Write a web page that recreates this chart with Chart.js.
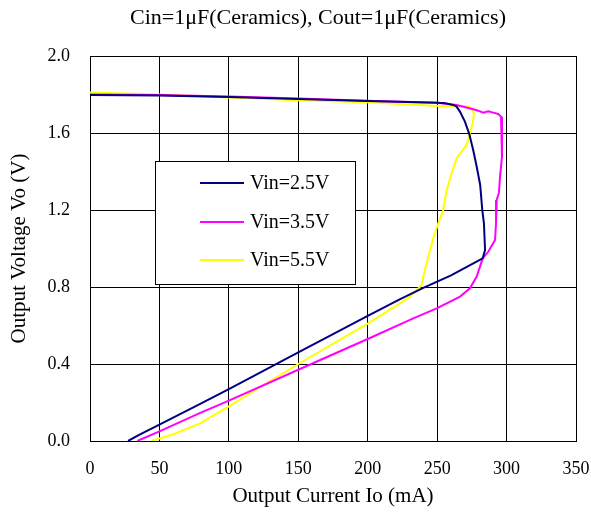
<!DOCTYPE html>
<html>
<head>
<meta charset="utf-8">
<script src="https://cdn.jsdelivr.net/npm/chart.js@4/dist/chart.umd.min.js"></script>
<style>
  html, body { margin: 0; padding: 0; background: #fff; }
  canvas { display: block; }
</style>
</head>
<body>
<canvas id="chart" width="591" height="514"></canvas>
<script>
// Io (mA) / Vo (V)
const vin25Current = [0, 50, 100, 150, 200, 250, 256, 262, 264, 266.5, 270, 273.2, 276, 278.5, 281, 282.5, 283.7, 284.5, 282.8, 260, 240, 223, 200, 150, 100, 79, 50, 35, 27.4];
const vin25Voltage = [1.797, 1.795, 1.787, 1.777, 1.766, 1.757, 1.754, 1.745, 1.737, 1.71, 1.659, 1.593, 1.51, 1.425, 1.33, 1.2, 1.131, 0.992, 0.949, 0.86, 0.795, 0.736, 0.65, 0.46, 0.27, 0.192, 0.085, 0.03, 0];

const vin35Current = [0, 50, 100, 150, 200, 250, 264, 276, 279.6, 283.2, 286.8, 290.4, 294, 296, 296.7, 296.7, 295.3, 294.5, 292.9, 292.4, 291.7, 286.8, 282.8, 278.5, 273.6, 266.5, 249.7, 232.8, 200, 150, 100, 79, 50, 34];
const vin35Voltage = [1.80, 1.797, 1.79, 1.779, 1.768, 1.757, 1.745, 1.723, 1.716, 1.706, 1.713, 1.706, 1.699, 1.685, 1.65, 1.477, 1.373, 1.29, 1.252, 1.131, 1.044, 0.983, 0.949, 0.854, 0.793, 0.75, 0.689, 0.637, 0.53, 0.37, 0.21, 0.145, 0.05, 0];

const vin55Current = [0, 50, 100, 150, 200, 237.6, 250, 264, 271.3, 274.9, 276.5, 275.6, 273.6, 271.3, 267.6, 264, 260.4, 256.9, 255.6, 254.4, 250.8, 247.2, 243.6, 240, 238.9, 235.3, 230.4, 223.2, 200, 150, 100, 79, 60, 44];
const vin55Voltage = [1.81, 1.80, 1.785, 1.77, 1.76, 1.745, 1.74, 1.74, 1.74, 1.728, 1.70, 1.65, 1.598, 1.538, 1.503, 1.468, 1.39, 1.304, 1.252, 1.2, 1.131, 1.053, 0.957, 0.854, 0.81, 0.784, 0.75, 0.715, 0.61, 0.40, 0.18, 0.09, 0.035, 0];

const seriesLabels = ['Vin=2.5V', 'Vin=3.5V', 'Vin=5.5V'];
const seriesColors = ['#000080', '#ff00ff', '#ffff00'];
const xTicks = [0, 50, 100, 150, 200, 250, 300, 350];
const yTicks = [0.0, 0.4, 0.8, 1.2, 1.6, 2.0];

const chartTitle = 'Cin=1\u03bcF(Ceramics), Cout=1\u03bcF(Ceramics)';
const xTitle = 'Output Current Io (mA)';
const yTitle = 'Output Voltage Vo (V)';

const FONT = "'Liberation Serif', 'Times New Roman', serif";

const toPoints = (xs, ys) => xs.map((x, i) => ({ x, y: ys[i] }));

// title above the plot and the boxed legend inside it
const overlay = {
  id: 'overlay',
  afterDraw(chart) {
    const ctx = chart.ctx;
    ctx.save();
    ctx.fillStyle = '#000';
    ctx.font = `22px ${FONT}`;
    ctx.textAlign = 'center';
    ctx.textBaseline = 'middle';
    ctx.fillText(chartTitle, 318, 18);

    // legend box
    ctx.fillStyle = '#fff';
    ctx.fillRect(155, 161, 200, 123);
    ctx.strokeStyle = '#000';
    ctx.lineWidth = 1;
    ctx.strokeRect(155.5, 161.5, 200, 123);
    const rows = [183, 222, 260];
    ctx.font = `20px ${FONT}`;
    ctx.textAlign = 'left';
    chart.data.datasets.forEach((ds, i) => {
      ctx.strokeStyle = ds.borderColor;
      ctx.lineWidth = 2;
      ctx.beginPath();
      ctx.moveTo(200, rows[i]);
      ctx.lineTo(244, rows[i]);
      ctx.stroke();
      ctx.fillStyle = '#000';
      ctx.fillText(ds.label, 250, rows[i] + 1);
    });
    ctx.restore();
  }
};

new Chart(document.getElementById('chart'), {
  type: 'scatter',
  data: {
    datasets: [
      { label: seriesLabels[0], data: toPoints(vin25Current, vin25Voltage), borderColor: seriesColors[0] },
      { label: seriesLabels[1], data: toPoints(vin35Current, vin35Voltage), borderColor: seriesColors[1] },
      { label: seriesLabels[2], data: toPoints(vin55Current, vin55Voltage), borderColor: seriesColors[2] }
    ].map(ds => ({ ...ds, showLine: true, pointRadius: 0, borderWidth: 2, tension: 0, fill: false }))
  },
  options: {
    responsive: false,
    animation: false,
    layout: { padding: { left: 0, right: 15, top: 56, bottom: 0 } },
    plugins: { legend: { display: false }, tooltip: { enabled: false }, title: { display: false } },
    scales: {
      x: {
        type: 'linear', min: 0, max: 350,
        afterBuildTicks: axis => { axis.ticks = xTicks.map(v => ({ value: v })); },
        afterFit: axis => { axis.height = 73; axis.paddingLeft = 0; axis.paddingRight = 0; },
        grid: { color: '#000', lineWidth: 1, drawTicks: false },
        border: { color: '#000', width: 1 },
        ticks: { color: '#000', padding: 17, maxRotation: 0, font: { family: FONT, size: 18 } },
        title: { display: true, text: xTitle, color: '#000', font: { family: FONT, size: 21 }, padding: { top: 0, bottom: 5 } }
      },
      y: {
        type: 'linear', min: 0, max: 2,
        afterBuildTicks: axis => { axis.ticks = yTicks.map(v => ({ value: v })); },
        afterFit: axis => { axis.width = 90; axis.paddingTop = 0; axis.paddingBottom = 0; },
        grid: { color: '#000', lineWidth: 1, drawTicks: false },
        border: { color: '#000', width: 1 },
        ticks: { color: '#000', padding: 20, callback: v => v.toFixed(1), font: { family: FONT, size: 18 } },
        title: { display: true, text: yTitle, color: '#000', font: { family: FONT, size: 21 }, padding: { top: 7, bottom: 0 } }
      }
    }
  },
  plugins: [overlay]
});
</script>
</body>
</html>
